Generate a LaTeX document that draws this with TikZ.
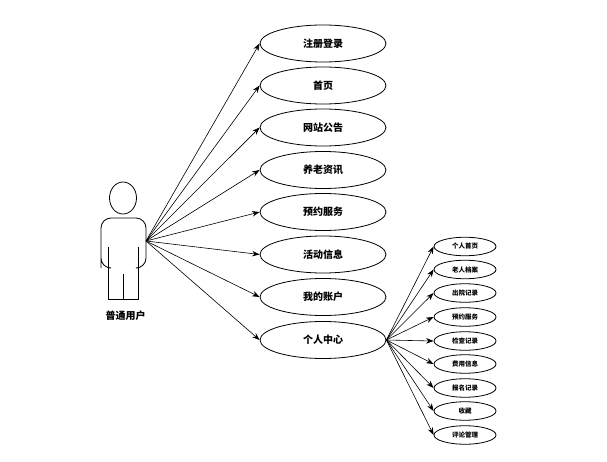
\documentclass[tikz,border=0pt]{standalone}
\usepackage{fontspec}
\setmainfont{Noto Sans CJK SC}
\usetikzlibrary{arrows.meta,shapes.geometric}
\tikzset{
  x=1pt,y=-1pt,
  bigcase/.style={draw=black,line width=0.8pt,ellipse,minimum width=126pt,minimum height=37pt,inner sep=0pt,font=\fontsize{10}{12}\selectfont\bfseries},
  smallcase/.style={draw=black,line width=0.8pt,ellipse,minimum width=62pt,minimum height=18.5pt,inner sep=0pt,font=\fontsize{6.5}{8}\selectfont\bfseries},
  conn/.style={draw=black,line width=0.6pt,-{Stealth[length=7.5pt,width=5.5pt]}},
  actorline/.style={draw=black,line width=0.8pt},
  caption/.style={font=\fontsize{10}{12}\selectfont\bfseries,inner sep=0pt}
}
\begin{document}
\begin{tikzpicture}
\useasboundingbox (0,0) rectangle (607,462);
\fill[white] (0,0) rectangle (607,462);
% actor
\draw[actorline] (123,198) ellipse [x radius=13.5,y radius=16];
\draw[actorline,rounded corners=10pt] (108.5,268) -- (101,268) [sharp corners] -- (101,268) [rounded corners=10pt] -- (101,218) -- (146,218) -- (146,268) [sharp corners] -- (138,268);
\draw[actorline] (108.5,247) -- (108.5,299) -- (138,299) -- (138,247);
\draw[actorline] (123,274) -- (123,299);
\coordinate (hand) at (146,241);
\node[caption] (actorname) at (125.5,316) {普通用户};
% main use cases
\node[bigcase] (a1) at (323,43.5) {注册登录};
\node[bigcase] (a2) at (323,85.5) {首页};
\node[bigcase] (a3) at (323,127.5) {网站公告};
\node[bigcase] (a4) at (323,170) {养老资讯};
\node[bigcase] (a5) at (323,212) {预约服务};
\node[bigcase] (a6) at (323,254.5) {活动信息};
\node[bigcase] (a7) at (323,297) {我的账户};
\node[bigcase] (a8) at (323,340) {个人中心};
\foreach \n in {a1,a2,a3,a4,a5,a6,a7,a8} \draw[conn] (hand) -- (\n.west);
% sub use cases
\node[smallcase] (b1) at (465,246.5) {个人首页};
\node[smallcase] (b2) at (465,269.5) {老人档案};
\node[smallcase] (b3) at (465,293) {出院记录};
\node[smallcase] (b4) at (465,317) {预约服务};
\node[smallcase] (b5) at (465,341) {检查记录};
\node[smallcase] (b6) at (465,364) {费用信息};
\node[smallcase] (b7) at (465,388) {报名记录};
\node[smallcase] (b8) at (465,411) {收藏};
\node[smallcase] (b9) at (465,435) {评论管理};
\foreach \n in {b1,b2,b3,b4,b5,b6,b7,b8,b9} \draw[conn] (a8.east) -- (\n.west);
\end{tikzpicture}
\end{document}
